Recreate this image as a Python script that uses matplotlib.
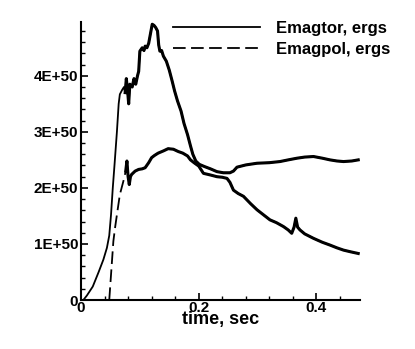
import numpy as np
import matplotlib
matplotlib.use('Agg')
import matplotlib.pyplot as plt
from matplotlib.ticker import MultipleLocator, FuncFormatter

plt.rcParams['font.family'] = ['Liberation Sans', 'DejaVu Sans']
plt.rcParams['font.weight'] = 'bold'

# values in units of 1E+50 ergs
tor_t = [0.0, 0.004, 0.010, 0.020, 0.030, 0.038, 0.044, 0.048, 0.051, 0.054,
         0.057, 0.061, 0.064, 0.066, 0.070, 0.073, 0.075, 0.077, 0.079, 0.081,
         0.083, 0.087, 0.090, 0.093, 0.096, 0.098, 0.100, 0.104, 0.107, 0.109,
         0.112, 0.115, 0.118, 0.121, 0.124, 0.127, 0.130, 0.132, 0.134, 0.137,
         0.140, 0.145, 0.150, 0.155, 0.159, 0.164, 0.170, 0.175, 0.181, 0.186,
         0.190, 0.195, 0.201, 0.210, 0.220, 0.231, 0.242, 0.253, 0.259, 0.265,
         0.280, 0.299, 0.320, 0.338, 0.352, 0.367, 0.380, 0.395, 0.410, 0.423,
         0.435, 0.446, 0.460, 0.471]
tor_e = [0.0, 0.0, 0.08, 0.24, 0.50, 0.72, 0.93, 1.15, 1.52, 2.00,
         2.42, 3.00, 3.50, 3.67, 3.75, 3.80, 3.70, 3.95, 3.75, 3.50,
         3.85, 3.80, 3.95, 3.85, 4.00, 4.08, 4.44, 4.50, 4.45, 4.53,
         4.50, 4.58, 4.75, 4.92, 4.90, 4.86, 4.80, 4.55, 4.44, 4.45,
         4.35, 4.26, 4.10, 3.90, 3.73, 3.55, 3.37, 3.15, 2.95, 2.75,
         2.60, 2.48, 2.42, 2.38, 2.34, 2.29, 2.27, 2.27, 2.30, 2.37,
         2.41, 2.44, 2.45, 2.47, 2.50, 2.53, 2.55, 2.56, 2.53, 2.50,
         2.48, 2.47, 2.48, 2.50]

pol_t = [0.048, 0.051, 0.055, 0.058, 0.061, 0.066, 0.072, 0.076, 0.078, 0.080,
         0.082, 0.084, 0.086, 0.092, 0.098, 0.104, 0.109, 0.115, 0.120, 0.125,
         0.131, 0.140, 0.148, 0.157, 0.165, 0.173, 0.181, 0.186, 0.192, 0.200,
         0.208, 0.220, 0.231, 0.240, 0.248, 0.253, 0.259, 0.267, 0.276, 0.288,
         0.299, 0.310, 0.321, 0.332, 0.344, 0.352, 0.358, 0.362, 0.365, 0.368,
         0.372, 0.380, 0.395, 0.410, 0.423, 0.435, 0.446, 0.458, 0.471]
pol_e = [0.0, 0.45, 1.05, 1.30, 1.52, 1.88, 2.12, 2.30, 2.48, 2.20,
         2.06, 2.20, 2.24, 2.30, 2.33, 2.34, 2.36, 2.45, 2.54, 2.58,
         2.62, 2.66, 2.70, 2.69, 2.65, 2.62, 2.57, 2.50, 2.45, 2.39,
         2.26, 2.23, 2.20, 2.19, 2.17, 2.10, 1.96, 1.90, 1.85, 1.72,
         1.61, 1.52, 1.43, 1.38, 1.31, 1.25, 1.19, 1.30, 1.46, 1.30,
         1.25, 1.18, 1.10, 1.03, 0.98, 0.93, 0.89, 0.86, 0.83]

tor_t, tor_e = np.array(tor_t), np.array(tor_e)
pol_t, pol_e = np.array(pol_t), np.array(pol_e)

fig = plt.figure(figsize=(4.15, 3.49), dpi=100)
ax = fig.add_axes([81 / 415, 49 / 349, 279 / 415, 278 / 349])

ax.plot(tor_t, tor_e, color='black', lw=1.3, label='Emagtor, ergs')
m = tor_t >= 0.075
ax.plot(tor_t[m], tor_e[m], color='black', lw=2.2)

ax.plot(pol_t, pol_e, color='black', lw=1.3, dashes=(7, 3), label='Emagpol, ergs')
m = pol_t >= 0.076
ax.plot(pol_t[m], pol_e[m], color='black', lw=2.2)

ax.set_xlim(0, 0.474)
ax.set_ylim(0, 4.96)
for s in ['top', 'right']:
    ax.spines[s].set_visible(False)
for s in ['left', 'bottom']:
    ax.spines[s].set_linewidth(1.5)

ax.xaxis.set_major_locator(MultipleLocator(0.2))
ax.xaxis.set_minor_locator(MultipleLocator(0.04))
ax.yaxis.set_major_locator(MultipleLocator(1))
ax.yaxis.set_minor_locator(MultipleLocator(0.2))
ax.xaxis.set_major_formatter(FuncFormatter(lambda v, p: '0' if abs(v) < 1e-9 else f'{v:.1f}'))
ax.yaxis.set_major_formatter(FuncFormatter(lambda v, p: '0' if abs(v) < 1e-9 else f'{v:.0f}E+50'))
ax.tick_params(which='major', direction='in', length=5, width=1.2, labelsize=11, pad=2)
ax.tick_params(which='minor', direction='in', length=3, width=1.0)
ax.tick_params(axis='x', pad=1)

ax.set_xlabel('time, sec', fontsize=13, fontweight='bold', labelpad=-3)

ax.legend(loc='upper left', bbox_to_anchor=(173 / 415, 1 - 21 / 349),
          bbox_transform=fig.transFigure, frameon=False, fontsize=12,
          handlelength=5.2, handletextpad=0.95, labelspacing=0.35,
          borderpad=0, borderaxespad=0)

fig.savefig('out.png', dpi=100)
